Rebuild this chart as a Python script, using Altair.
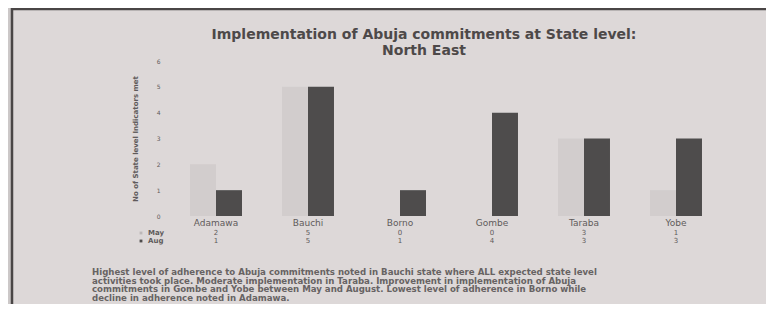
import altair as alt
import pandas as pd

states = ["Adamawa", "Bauchi", "Borno", "Gombe", "Taraba", "Yobe"]
may_vals = [2, 5, 0, 0, 3, 1]
aug_vals = [1, 5, 1, 4, 3, 3]
series = ["May", "Aug"]
title_lines = ["Implementation of Abuja commitments at State level:", "North East"]
y_title = "No of State level Indicators met"
caption_lines = [
    "Highest level of adherence to Abuja commitments noted in Bauchi state where ALL expected state level",
    "activities took place. Moderate implementation in Taraba. Improvement in implementation of Abuja",
    "commitments in Gombe and Yobe between May and August. Lowest level of adherence in Borno while",
    "decline in adherence noted in Adamawa.",
]

LIGHT = "#d2cdcd"
DARK = "#4e4c4c"
PAPER = "#ddd8d8"
TEXT = "#5f5b5b"

rows = []
for s, m, a in zip(states, may_vals, aug_vals):
    rows.append({"state": s, "series": "May", "value": m})
    rows.append({"state": s, "series": "Aug", "value": a})
df = pd.DataFrame(rows)

W, H = 552, 155

xscale = alt.Scale(domain=states, paddingInner=0.435, paddingOuter=0.2175)

frame = alt.Chart(pd.DataFrame({"k": [0]})).mark_rect(
    fill=PAPER, stroke="#4a4646", strokeWidth=2.5, clip=False
).encode(
    x=alt.value(-158), x2=alt.value(620), y=alt.value(-52), y2=alt.value(248)
)

title = alt.Chart(pd.DataFrame({"t": ["\n".join(title_lines)]})).mark_text(
    fontSize=14, font="DejaVu Sans", fontWeight="bold", color="#4d4949",
    align="center", baseline="middle", lineBreak="\n", lineHeight=16
).encode(x=alt.value(254), y=alt.value(-26), text="t:N")

bars = alt.Chart(df).mark_bar().encode(
    x=alt.X("state:N", scale=xscale, sort=states,
            axis=alt.Axis(title=None, labelFontSize=9, labelColor=TEXT, labelFont="DejaVu Sans",
                          ticks=False, domain=False, labelPadding=2, labelAngle=0, zindex=1)),
    xOffset=alt.XOffset("series:N", sort=series, scale=alt.Scale(domain=series, paddingInner=0, paddingOuter=0)),
    y=alt.Y("value:Q", scale=alt.Scale(domain=[0, 6]),
            axis=alt.Axis(title=y_title, values=[0, 1, 2, 3, 4, 5, 6], grid=False, ticks=False,
                          domain=False, labelFontSize=6, labelColor=TEXT, labelPadding=10,
                          titleFontSize=7, titleColor=TEXT, titleFont="DejaVu Sans", titleFontWeight="bold",
                          titlePadding=18, labelFont="DejaVu Sans", zindex=1)),
    color=alt.Color("series:N", scale=alt.Scale(domain=series, range=[LIGHT, DARK]), legend=None),
)

may_df = pd.DataFrame({"state": states, "value": may_vals})
aug_df = pd.DataFrame({"state": states, "value": aug_vals})

may_row = alt.Chart(may_df).mark_text(fontSize=7, color=TEXT, font="DejaVu Sans").encode(
    x=alt.X("state:N", scale=xscale, sort=states), y=alt.value(172), text="value:Q")
aug_row = alt.Chart(aug_df).mark_text(fontSize=7, color=TEXT, font="DejaVu Sans").encode(
    x=alt.X("state:N", scale=xscale, sort=states), y=alt.value(180), text="value:Q")

row_scale = alt.Scale(type="point", domain=series, range=[172, 180], padding=0)
row_labels = alt.Chart(pd.DataFrame({"s": series})).mark_text(
    fontSize=7, color=TEXT, font="DejaVu Sans", fontWeight="bold", align="left"
).encode(
    x=alt.value(-22),
    y=alt.Y("s:N", sort=series, scale=row_scale, axis=None),
    text="s:N",
)
row_markers = alt.Chart(pd.DataFrame({"s": series})).mark_point(
    shape="square", filled=True, size=8, opacity=1
).encode(
    x=alt.value(-29),
    y=alt.Y("s:N", sort=series, scale=row_scale, axis=None),
    color=alt.Color("s:N", scale=alt.Scale(domain=series, range=["#bdb8b8", DARK]), legend=None),
)

caption = alt.Chart(pd.DataFrame({"t": ["\n".join(caption_lines)]})).mark_text(
    fontSize=8.6, color="#676363", font="DejaVu Sans", fontWeight="bold", align="left", baseline="top",
    lineBreak="\n", lineHeight=8.6
).encode(x=alt.value(-78), y=alt.value(207), text="t:N")

chart = alt.layer(frame, title, bars, may_row, aug_row, row_labels, row_markers, caption).resolve_scale(
    y="independent", color="independent"
).properties(
    width=W, height=H,
    autosize=alt.AutoSizeParams(type="none"),
    padding={"left": 162, "top": 53, "right": 44, "bottom": 88},
    background="#ccc8c8",
).configure_view(stroke=None)

chart.save("out.html", embed_options={"renderer": "svg", "actions": False})
